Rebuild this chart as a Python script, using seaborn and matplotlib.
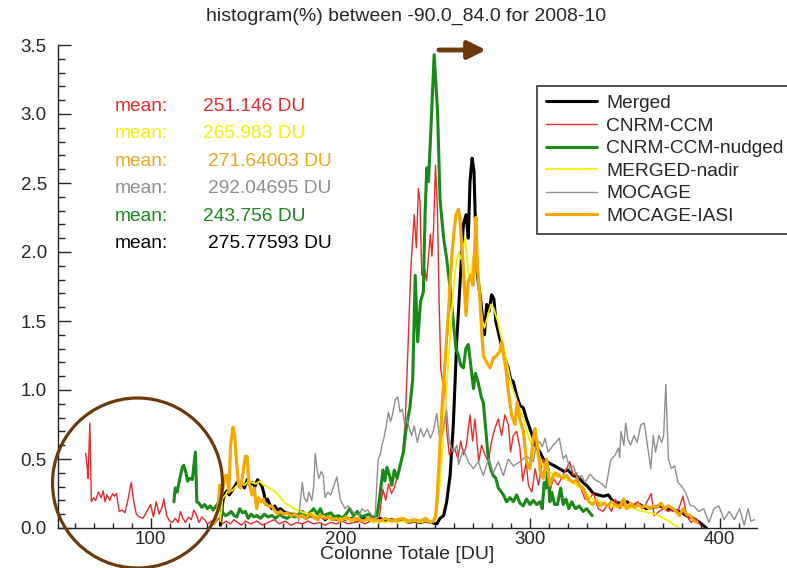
import matplotlib
matplotlib.use("Agg")
import numpy as np
import pandas as pd
import seaborn as sns
import matplotlib.pyplot as plt
from matplotlib.patches import Ellipse
from matplotlib.lines import Line2D
from matplotlib.ticker import MultipleLocator, FormatStrFormatter

# ---------------- data ----------------
series_names = ["Merged", "CNRM-CCM", "CNRM-CCM-nudged", "MERGED-nadir", "MOCAGE", "MOCAGE-IASI"]

merged_pts = [(136.8,0.02),(137.5,0.12),(138.3,0.21),(139.3,0.25),(140.3,0.27),(141.5,0.24),(143,0.27),(144.3,0.3),(145.6,0.33),(147,0.3),(148.3,0.32),(149.5,0.29),(150.9,0.35),(152.3,0.31),(153.5,0.33),(155,0.3),(156.4,0.35),(157.6,0.33),(158.8,0.3),(159.8,0.25),(160.5,0.19),(161.6,0.21),(162.8,0.17),(164,0.14),(165.5,0.16),(166.7,0.13),(168.5,0.14),(170,0.12),(172,0.11),(173.7,0.1),(176,0.1),(178,0.08),(180,0.09),(182,0.07),(184,0.09),(186,0.08),(188,0.07),(190,0.09),(192,0.06),(194,0.08),(196,0.07),(198,0.06),(200,0.08),(203,0.06),(206,0.07),(209,0.05),(212,0.07),(215,0.06),(218,0.05),(221,0.07),(224,0.05),(227,0.06),(230,0.05),(233,0.06),(236,0.04),(239,0.05),(242,0.04),(245,0.05),(248,0.04),(250.9,0.03),(252.6,0.07),(254.5,0.09),(256.1,0.19),(257.9,0.38),(259.6,0.75),(261.4,1.35),(263.2,1.79),(264.9,2.2),(266.3,2.27),(267.5,2.1),(268.4,2.51),(269.5,2.68),(270.5,2.59),(271.5,2.08),(272.3,1.83),(273.6,1.7),(275.1,1.52),(276,1.4),(277.2,1.62),(278.5,1.57),(279.8,1.69),(281,1.66),(282,1.5),(283.3,1.42),(284.5,1.35),(285.5,1.3),(286.8,1.23),(288.6,1.16),(289.8,1.08),(291.2,1.06),(293,0.96),(294.7,0.89),(296.5,0.87),(298.2,0.79),(300,0.72),(301.8,0.65),(303.5,0.58),(305.3,0.55),(307,0.5),(309,0.48),(311.5,0.46),(313,0.45),(315.5,0.43),(318,0.41),(320,0.42),(322.8,0.38),(325.4,0.37),(328,0.33),(330.5,0.3),(333.4,0.25),(336,0.24),(338.7,0.23),(341.3,0.24),(344,0.19),(347.5,0.18),(351,0.19),(354.5,0.16),(357.9,0.17),(361.4,0.14),(364.9,0.15),(368.4,0.16),(371.9,0.14),(375.4,0.13),(378.9,0.12),(382.5,0.09),(386,0.07),(389.5,0.04),(393,0.0)]

cnrm_pts = [(65.8,0.54),(66.5,0.45),(67,0.36),(68,0.76),(68.8,0.19),(70,0.22),(71,0.2),(72.5,0.26),(74,0.22),(75,0.27),(76,0.19),(77,0.24),(78.5,0.2),(80,0.25),(81,0.23),(82,0.25),(83.5,0.12),(85,0.13),(86.5,0.11),(88,0.2),(89.8,0.33),(91,0.2),(92.5,0.1),(94,0.08),(96,0.07),(98,0.12),(100,0.17),(101.5,0.08),(103,0.19),(104.5,0.1),(106,0.15),(107,0.21),(108.5,0.09),(110,0.05),(111.5,0.04),(113,0.07),(114.5,0.04),(115.8,0.12),(117,0.07),(118.5,0.04),(120,0.08),(121.5,0.06),(122.8,0.13),(124,0.1),(125.5,0.04),(127,0.08),(128.5,0.06),(130,0.03),(132,0.05),(134,0.04),(136,0.07),(138,0.03),(140,0.05),(142,0.03),(144,0.06),(146,0.04),(148,0.02),(150,0.05),(153,0.03),(156,0.05),(159,0.02),(162,0.04),(165,0.06),(168,0.03),(171,0.05),(174,0.02),(177,0.04),(180,0.03),(183,0.05),(186,0.03),(189,0.04),(192,0.02),(195,0.04),(198,0.03),(201,0.05),(204,0.03),(207,0.04),(210,0.05),(213,0.03),(216,0.05),(218,0.04),(219.5,0.06),(220.7,0.09),(222.5,0.28),(224,0.2),(225.5,0.32),(227,0.25),(228.5,0.29),(229.8,0.36),(231,0.42),(232.5,0.5),(234.2,0.75),(235.5,1.23),(237.2,1.88),(239,2.27),(240.1,2.03),(241.2,2.46),(242,2.37),(243,1.83),(244.5,1.88),(245.5,1.79),(247.5,2.13),(248.3,1.97),(249.2,2.17),(250.2,2.63),(251.2,2.32),(252.2,1.59),(253,1.15),(254,1.06),(255,1.08),(256,0.72),(257.5,0.53),(259,0.57),(260.5,0.57),(262,0.5),(263.5,0.63),(265,0.53),(266.5,0.6),(268.4,0.82),(269.8,0.63),(271,0.79),(273,0.48),(274.5,0.6),(276.3,0.53),(278,0.48),(279.8,0.63),(281.5,0.72),(283.3,0.79),(285,0.67),(286.8,0.82),(288.6,0.75),(289.8,0.55),(291.2,0.67),(293,0.7),(294.7,0.58),(296.2,0.34),(298,0.48),(299.2,0.31),(301,0.26),(302.7,0.43),(304.5,0.31),(305.3,0.38),(307,0.5),(308.8,0.38),(310.5,0.26),(312.3,0.36),(314.8,0.31),(316.5,0.36),(319.3,0.43),(321,0.48),(322.8,0.38),(324.5,0.4),(326.7,0.29),(329,0.21),(331,0.21),(333.5,0.25),(336,0.14),(338.5,0.12),(341,0.17),(343,0.12),(345,0.21),(347.5,0.14),(349,0.17),(352,0.14),(354.5,0.17),(357,0.19),(359,0.14),(361,0.17),(363.9,0.25),(365.5,0.09),(368,0.12),(370.5,0.14),(373,0.12),(375.4,0.14),(378,0.12),(380.7,0.23),(382.5,0.09),(385,0.04),(387.5,0.07),(390,0.02)]

nudged_pts = [(112.3,0.19),(113,0.29),(114,0.26),(115,0.33),(116.7,0.44),(117.5,0.455),(118.5,0.41),(119.5,0.34),(120.5,0.36),(122,0.35),(123.6,0.55),(124.4,0.19),(125.5,0.18),(127,0.15),(128.5,0.17),(130,0.14),(131.5,0.16),(133,0.13),(134.5,0.16),(136,0.19),(136.8,0.26),(138,0.11),(139.5,0.09),(141,0.1),(142.5,0.12),(144,0.09),(145.5,0.08),(147,0.14),(148.5,0.11),(150,0.12),(151.5,0.07),(153,0.1),(154.5,0.08),(156,0.09),(158,0.07),(160,0.1),(162,0.08),(164,0.09),(166,0.07),(168,0.1),(170,0.08),(172,0.07),(174,0.09),(176,0.08),(178,0.1),(180,0.12),(182,0.09),(184,0.11),(186,0.14),(188,0.1),(189.5,0.14),(191,0.09),(193,0.1),(195,0.11),(197,0.08),(199,0.09),(201,0.07),(203,0.1),(205,0.14),(207,0.09),(209,0.12),(211,0.08),(213,0.09),(215,0.1),(217,0.08),(219.3,0.09),(220.5,0.19),(222.5,0.42),(223.5,0.34),(224.6,0.44),(226,0.38),(227.2,0.31),(228.5,0.42),(230,0.36),(231.5,0.45),(233.3,0.55),(235,0.75),(236.7,0.87),(238.2,1.08),(239.5,1.83),(240.8,1.35),(242.3,1.64),(243.8,1.71),(244.7,2.27),(245.6,2.61),(246.5,2.51),(247.5,2.8),(248.5,3.12),(249.5,3.43),(251.3,3.02),(252.6,2.38),(254.5,2.1),(256.1,1.95),(257.8,1.75),(259.6,1.5),(261,1.3),(262.3,1.25),(263.5,1.18),(264.9,1.16),(266.2,1.3),(267.5,1.33),(268.8,1.18),(270.2,1.01),(271.3,1.12),(272.8,1.05),(274.3,0.95),(275.4,0.91),(276.8,0.7),(278.1,0.5),(279.5,0.42),(280.7,0.38),(282,0.36),(283.3,0.29),(285,0.26),(286,0.24),(287.7,0.19),(289.5,0.22),(291.2,0.19),(293,0.24),(294.7,0.18),(296.5,0.16),(298.2,0.21),(300,0.17),(301.8,0.2),(303.5,0.17),(305.3,0.19),(306.5,0.14),(307.5,0.33),(308.5,0.29),(309.5,0.43),(310.5,0.19),(311.5,0.26),(313,0.17),(314.5,0.17),(316.2,0.29),(317.5,0.17),(319,0.21),(320.5,0.14),(322,0.19),(324,0.14),(326,0.16),(328,0.12),(330,0.14),(331,0.12),(332.8,0.09)]

nadir_pts = [(136.8,0.05),(137.8,0.21),(139.5,0.24),(141.2,0.28),(143,0.27),(145,0.3),(147.4,0.33),(149.5,0.31),(151.5,0.34),(153.5,0.33),(155.5,0.32),(157.5,0.34),(159.5,0.31),(161.5,0.3),(163.5,0.28),(165,0.27),(166.7,0.25),(168.5,0.22),(170.2,0.19),(172,0.17),(173.7,0.16),(175.5,0.14),(177.5,0.13),(179,0.12),(181,0.11),(183,0.1),(185,0.11),(187,0.09),(189,0.08),(191,0.09),(193,0.07),(195,0.08),(197,0.06),(200,0.07),(203,0.06),(206,0.05),(209,0.06),(212,0.05),(215,0.06),(218,0.04),(221,0.05),(224,0.04),(227,0.06),(230,0.04),(233,0.05),(236,0.04),(239,0.05),(242,0.04),(245,0.05),(248,0.04),(250,0.05),(251.2,0.15),(252.4,0.3),(253.5,0.5),(254.5,0.7),(255.5,0.9),(256.5,1.1),(257.5,1.3),(258.5,1.5),(259.5,1.7),(260.5,1.85),(261.5,1.95),(262.5,2.0),(263.5,1.95),(264.5,2.0),(265.8,2.1),(266.8,1.95),(268,1.8),(269,1.85),(270,1.95),(271,2.05),(272,1.95),(273,1.75),(274,1.6),(275,1.5),(276,1.45),(277,1.5),(278.2,1.56),(279.4,1.62),(280.6,1.6),(281.8,1.55),(283,1.5),(284.2,1.42),(285.4,1.35),(286.6,1.28),(287.8,1.2),(289,1.12),(290.5,1.02),(292,0.97),(293.5,0.9),(295,0.85),(296.5,0.8),(298,0.72),(299.5,0.65),(301,0.6),(302.5,0.56),(304,0.52),(305.5,0.5),(307,0.45),(309,0.42),(311,0.4),(313,0.38),(315,0.37),(317,0.38),(319,0.35),(321,0.34),(323,0.33),(325,0.3),(327,0.29),(329,0.26),(331,0.23),(333,0.21),(335,0.2),(337,0.19),(339,0.18),(341,0.17),(343,0.16),(345,0.15),(348,0.16),(351,0.14),(354,0.15),(357,0.13),(360,0.12),(363,0.11),(366,0.1),(369,0.08),(372,0.06),(375,0.03),(378,0.01)]

mocage_pts = [(178,0.05),(179,0.2),(180,0.33),(181,0.22),(182.5,0.19),(183.5,0.26),(185,0.2),(186,0.3),(186.8,0.54),(187.8,0.42),(188.8,0.36),(190,0.41),(191,0.38),(192,0.22),(193.5,0.26),(195,0.24),(196.5,0.3),(198.2,0.37),(199,0.3),(200,0.21),(201,0.18),(202.5,0.14),(204,0.16),(205.5,0.14),(207,0.11),(208.5,0.1),(210,0.09),(211.5,0.14),(213,0.12),(214.5,0.13),(216.7,0.09),(218.4,0.09),(219,0.24),(220,0.5),(221,0.53),(222,0.6),(223,0.65),(224,0.72),(225.4,0.84),(226.5,0.77),(227.5,0.82),(229,0.93),(230.3,0.95),(231.5,0.84),(232.7,0.86),(234,0.75),(235,0.79),(236.5,0.72),(237.6,0.67),(239,0.74),(240.6,0.62),(242.3,0.72),(244,0.66),(245.8,0.72),(247.5,0.65),(249,0.7),(250.9,0.83),(252.6,0.62),(254,0.7),(256.1,0.85),(257.5,0.62),(259.6,0.55),(261.5,0.6),(262.3,0.46),(264.9,0.57),(267.5,0.48),(270.2,0.43),(272.8,0.48),(275.4,0.38),(278.1,0.5),(280.7,0.4),(283.3,0.48),(286,0.38),(288.6,0.5),(291.2,0.45),(294.7,0.48),(298.2,0.52),(301.8,0.48),(303.5,0.63),(305.3,0.62),(306.5,0.59),(308,0.65),(309.5,0.55),(312.3,0.6),(315.5,0.65),(317.5,0.5),(319,0.53),(321,0.43),(323,0.45),(324.7,0.36),(327.3,0.38),(329,0.33),(331.7,0.39),(334.3,0.35),(337,0.33),(340,0.29),(342.5,0.49),(345,0.53),(346.7,0.58),(347.3,0.51),(348,0.7),(349.5,0.6),(350.5,0.76),(351.7,0.64),(353,0.6),(354.9,0.67),(356.5,0.62),(358.5,0.75),(360.3,0.76),(363.7,0.43),(365,0.67),(366.2,0.55),(368,0.67),(369.5,0.62),(370.5,0.67),(371.6,1.04),(373,0.5),(374.5,0.43),(376.3,0.45),(378,0.33),(379.5,0.31),(382,0.26),(384.6,0.16),(386.3,0.16),(389,0.12),(391.6,0.14),(394.4,0.04),(397,0.14),(399.6,0.16),(402.3,0.06),(405,0.12),(407.8,0.06),(410.5,0.14),(413,0.02),(415,0.14),(416.5,0.05),(418.3,0.06)]

iasi_pts = [(133.5,0.03),(134.5,0.08),(135.5,0.14),(136.5,0.31),(137.5,0.26),(138.5,0.31),(139.5,0.38),(140.4,0.38),(141.3,0.26),(142.2,0.6),(143.5,0.73),(144.3,0.67),(145.3,0.48),(146.3,0.33),(147.4,0.29),(148.5,0.38),(150,0.52),(150.9,0.52),(151.8,0.33),(152.6,0.29),(153.5,0.24),(154.7,0.29),(155.9,0.14),(157,0.22),(158,0.19),(159.5,0.21),(160.5,0.17),(162,0.16),(163.8,0.16),(165.3,0.13),(166.7,0.1),(168.5,0.12),(170.2,0.1),(172,0.11),(174,0.09),(176,0.1),(178,0.08),(180,0.09),(182,0.07),(184,0.1),(186,0.08),(188,0.06),(190,0.09),(192,0.07),(194,0.08),(196,0.06),(198,0.07),(200,0.05),(203,0.08),(206,0.06),(209,0.07),(212,0.05),(215,0.07),(218,0.06),(221,0.05),(224,0.07),(227,0.05),(230,0.06),(233,0.07),(236,0.05),(239,0.06),(242,0.05),(245,0.07),(247.5,0.04),(249,0.05),(250.2,0.08),(251,0.2),(252,0.45),(253,0.7),(254,0.95),(255,1.15),(256,1.35),(257,1.55),(258,1.8),(259,2.0),(260,2.15),(261,2.27),(262.3,2.31),(263.2,2.22),(264.9,1.88),(266.3,1.54),(267.5,1.79),(268.7,1.83),(269.9,1.76),(270.8,2.0),(271.5,2.25),(272.3,1.9),(273.6,1.67),(274.5,1.45),(275.4,1.25),(277.2,1.2),(279,1.16),(280.7,1.23),(282.5,1.25),(284.2,1.28),(285.1,1.35),(286.8,1.2),(287.7,1.11),(288.6,0.99),(290.3,0.82),(292.1,0.75),(293.3,0.91),(294.7,0.79),(296.5,0.7),(298.2,0.48),(300,0.43),(301.8,0.65),(302.7,0.72),(304.4,0.55),(305.3,0.43),(306.2,0.38),(307,0.36),(308.8,0.5),(310.5,0.31),(312.3,0.38),(313.5,0.4),(315.5,0.38),(317,0.36),(319.3,0.38),(321,0.35),(322.8,0.33),(324.5,0.35),(326,0.31),(328,0.29),(329.5,0.24),(331,0.19),(333,0.17),(335,0.2),(337,0.16),(339,0.18),(341,0.16),(343,0.19),(345,0.17),(347,0.15),(349.4,0.21),(351,0.14),(353,0.18),(355,0.15),(357,0.17),(359,0.15),(361,0.16),(363,0.14),(365,0.16),(367,0.15),(369,0.18),(371,0.14),(373,0.16),(375.4,0.14),(377,0.12),(378.9,0.09),(380.7,0.14),(382.5,0.1),(384.5,0.09),(386,0.06),(387.9,0.04)]

mean_labels = ["251.146 DU", "265.983 DU", "271.64003 DU", "292.04695 DU", "243.756 DU", "275.77593 DU"]

title_text = "histogram(%) between -90.0_84.0 for 2008-10"
xlabel_text = "Colonne Totale [DU]"

# ---------------- styling ----------------
sns.set_theme(style="white")
plt.rcParams["font.family"] = ["Liberation Sans", "DejaVu Sans"]

colors = {"Merged": "#000000", "CNRM-CCM": "#e82a2a", "CNRM-CCM-nudged": "#188a18",
          "MERGED-nadir": "#f2f000", "MOCAGE": "#8e8e8e", "MOCAGE-IASI": "#f5a800"}
widths = {"Merged": 2.2, "CNRM-CCM": 1.0, "CNRM-CCM-nudged": 2.2,
          "MERGED-nadir": 1.3, "MOCAGE": 1.0, "MOCAGE-IASI": 2.3}
pts = {"Merged": merged_pts, "CNRM-CCM": cnrm_pts, "CNRM-CCM-nudged": nudged_pts,
       "MERGED-nadir": nadir_pts, "MOCAGE": mocage_pts, "MOCAGE-IASI": iasi_pts}

frames = []
for name in series_names:
    d = pd.DataFrame(pts[name], columns=["DU", "pct"])
    d["series"] = name
    frames.append(d)
df = pd.concat(frames, ignore_index=True)

W, H = 787, 568
fig = plt.figure(figsize=(W / 100, H / 100), dpi=100)
ax = fig.add_axes([58 / W, 1 - 528 / H, (757 - 58) / W, (528 - 45) / H])

for name in series_names:
    sns.lineplot(data=df[df["series"] == name], x="DU", y="pct", ax=ax,
                 color=colors[name], lw=widths[name], estimator=None,
                 sort=False, legend=False)

ax.set_xlim(51.2, 419.7)
ax.set_ylim(0, 3.5)
ax.xaxis.set_major_locator(MultipleLocator(100))
ax.xaxis.set_minor_locator(MultipleLocator(10))
ax.yaxis.set_major_locator(MultipleLocator(0.5))
ax.yaxis.set_minor_locator(MultipleLocator(0.1))
ax.yaxis.set_major_formatter(FormatStrFormatter("%.1f"))
ax.tick_params(axis="y", which="major", direction="in", length=9, width=1, pad=8,
               labelsize=13.5, left=True, color="#222222")
ax.tick_params(axis="y", which="minor", direction="in", length=5, width=1, left=True, color="#222222")
ax.tick_params(axis="x", which="major", direction="in", length=7, width=1, pad=2,
               labelsize=13.5, bottom=True, color="#222222")
ax.tick_params(axis="x", which="minor", direction="in", length=3.6, width=1, bottom=True, color="#222222")
for s in ["top", "right"]:
    ax.spines[s].set_visible(False)
for s in ["left", "bottom"]:
    ax.spines[s].set_color("#222222")
    ax.spines[s].set_linewidth(1.0)
ax.set_xlabel(xlabel_text, fontsize=14, labelpad=-1)
ax.set_ylabel("")

fig.text(406 / W, 1 - 16 / H, title_text, ha="center", va="center", fontsize=14)

# mean annotations
mean_colors = ["#e82a2a", "#f2f000", "#e8a820", "#8e8e8e", "#188a18", "#000000"]
mean_x = [203, 203, 208, 208, 203, 208]
mean_y = [106.7, 134, 161, 188.3, 216.7, 244]
for lab, c, xv, yv in zip(mean_labels, mean_colors, mean_x, mean_y):
    fig.text(115 / W, 1 - yv / H, "mean:", color=c, fontsize=13.8, va="center", ha="left")
    fig.text(xv / W, 1 - yv / H, lab, color=c, fontsize=13.8, va="center", ha="left")

# legend
handles = [Line2D([0], [0], color=colors[n], lw=widths[n]) for n in series_names]
leg = ax.legend(handles, series_names, loc="upper left",
                bbox_to_anchor=(537 / W, 1 - 86 / H), bbox_transform=fig.transFigure,
                frameon=True, fancybox=False, edgecolor="#333333", framealpha=1,
                fontsize=13.8, labelspacing=0.27, handlelength=2.7, handletextpad=0.45,
                borderpad=0.45, borderaxespad=0)
leg.get_frame().set_linewidth(1.2)

# brown annotation: circle and arrow
brown = "#6b3a0c"
circ = Ellipse((137.5 / W, 1 - 483 / H), 170 / W, 170 / H, transform=fig.transFigure,
               fill=False, edgecolor=brown, lw=2.3, zorder=10)
fig.add_artist(circ)
ax.annotate("", xy=(486, H - 50), xytext=(439, H - 50), xycoords="figure pixels",
            textcoords="figure pixels", annotation_clip=False,
            arrowprops=dict(arrowstyle="-|>,head_width=0.45,head_length=0.9",
                            lw=3.5, color=brown, shrinkA=0, shrinkB=0))

fig.savefig("out.png", dpi=100)
